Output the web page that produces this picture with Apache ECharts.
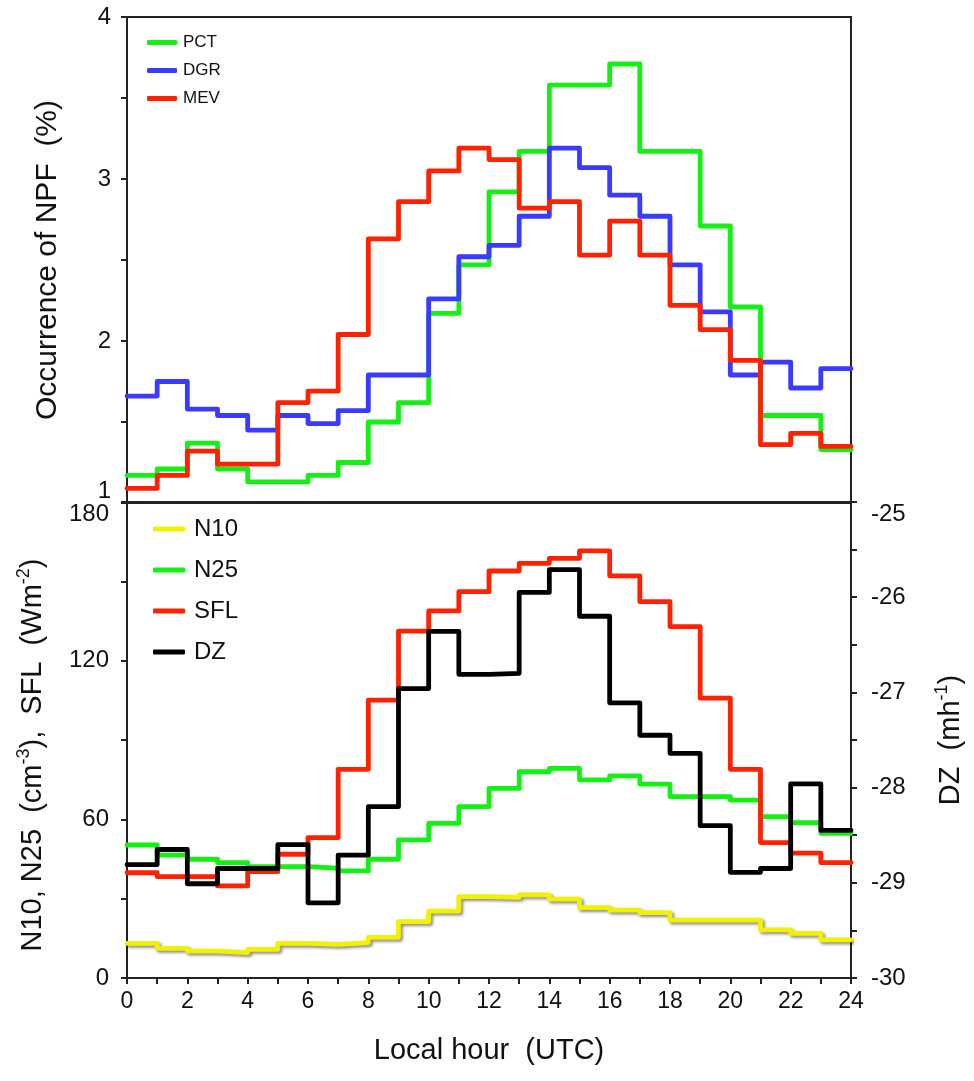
<!DOCTYPE html>
<html>
<head>
<meta charset="utf-8">
<script src="https://cdn.jsdelivr.net/npm/echarts@6/dist/echarts.min.js"></script>
<style>
  html, body { margin: 0; padding: 0; background: #fff; }
  #main { width: 974px; height: 1081px; }
</style>
</head>
<body>
<div id="main"></div>
<script>
// hourly bins 0-1 ... 23-24
var hours = [0,1,2,3,4,5,6,7,8,9,10,11,12,13,14,15,16,17,18,19,20,21,22,23];

// top panel: occurrence of NPF (%)
var pct = [1.17,1.21,1.37,1.21,1.13,1.13,1.17,1.25,1.50,1.62,2.17,2.47,2.92,3.17,3.58,3.58,3.71,3.17,3.17,2.71,2.21,1.54,1.54,1.33];
var dgr = [1.66,1.75,1.58,1.54,1.45,1.54,1.49,1.57,1.79,1.79,2.26,2.52,2.59,2.77,3.19,3.07,2.90,2.77,2.47,2.18,1.79,1.87,1.71,1.83];
var mev = [1.09,1.17,1.32,1.24,1.24,1.62,1.69,2.04,2.63,2.86,3.05,3.19,3.12,2.82,2.86,2.53,2.74,2.53,2.22,2.07,1.88,1.36,1.43,1.35];

// bottom panel
var n10 = [13.1,11.2,10.2,9.6,10.8,13.1,12.7,13.4,15.4,21.3,25.3,30.8,30.5,31.4,29.8,26.6,25.7,24.7,21.9,21.9,21.9,18.2,16.9,14.4];
var n25 = [50.3,46.5,44.9,43.6,42.1,42.1,41.5,40.5,44.9,52.2,58.5,64.8,71.7,78.0,79.3,74.9,76.4,73.3,68.6,68.6,67.3,61.0,58.7,54.7];
var sfl = [39.8,38.3,38.3,34.8,40.2,46.8,53.1,78.9,105.1,131.2,138.8,146.1,153.9,156.8,158.7,161.5,152.1,142.3,132.9,105.8,78.9,51.2,47.2,43.6];
var dz = [-28.81,-28.65,-29.01,-28.85,-28.85,-28.60,-29.21,-28.71,-28.20,-26.96,-26.36,-26.81,-26.80,-25.95,-25.71,-26.20,-27.11,-27.45,-27.64,-28.40,-28.89,-28.85,-27.96,-28.45];

var FONT = '"Liberation Sans", Arial, sans-serif';
var AXIS = '#222';

// each bin drawn as a flat step; last point closes the 23-24 bin
function steps(vals) {
  var pts = hours.map(function (h, i) { return [h, vals[i]]; });
  pts.push([24, vals[vals.length - 1]]);
  return pts;
}

function stepSeries(name, vals, color, xi, yi, extra) {
  var s = {
    name: name,
    type: 'line',
    step: 'end',
    xAxisIndex: xi,
    yAxisIndex: yi,
    data: steps(vals),
    symbol: 'none',
    color: color,
    lineStyle: { width: 4.8, color: color, cap: 'round', join: 'round' },
    animation: false
  };
  if (extra) s.lineStyle = Object.assign(s.lineStyle, extra);
  return s;
}

var supTitle = {
  a: { fontSize: 29, color: '#111', fontFamily: FONT, lineHeight: 32, verticalAlign: 'bottom' },
  s: { fontSize: 18, color: '#111', fontFamily: FONT, lineHeight: 32, verticalAlign: 'top' }
};

var chart = echarts.init(document.getElementById('main'));

var option = {
  backgroundColor: '#fff',
  textStyle: { fontFamily: FONT, color: '#111' },
  grid: [
    { left: 127, top: 17, width: 724, height: 486, show: true, borderColor: AXIS, borderWidth: 2, backgroundColor: 'transparent' },
    { left: 127, top: 502, width: 724, height: 476, show: true, borderColor: AXIS, borderWidth: 2, backgroundColor: 'transparent' }
  ],
  legend: [
    {
      data: ['PCT', 'DGR', 'MEV'],
      orient: 'vertical', left: 142, top: 29,
      icon: 'roundRect', itemWidth: 30, itemHeight: 5, itemGap: 11,
      textStyle: { fontSize: 17, fontFamily: FONT, color: '#111', padding: [0, 0, 0, 1] }
    },
    {
      data: ['N10', 'N25', 'SFL', 'DZ'],
      orient: 'vertical', left: 148, top: 512,
      icon: 'roundRect', itemWidth: 32, itemHeight: 5, itemGap: 17,
      textStyle: { fontSize: 24, fontFamily: FONT, color: '#111', padding: [0, 0, 0, 4] }
    }
  ],
  xAxis: [
    {
      gridIndex: 0, type: 'value', min: 0, max: 24, interval: 1,
      axisLine: { show: false }, axisTick: { show: false },
      axisLabel: { show: false }, splitLine: { show: false }
    },
    {
      gridIndex: 1, type: 'value', min: 0, max: 24, interval: 1,
      axisLine: { lineStyle: { color: AXIS, width: 2 } },
      axisTick: { length: 6, lineStyle: { color: AXIS, width: 2 } },
      axisLabel: {
        fontSize: 23, margin: 12, color: '#111',
        fontFamily: '"Liberation Sans Narrow", "Liberation Sans", sans-serif',
        formatter: function (v) { return v % 2 === 0 ? String(v) : ''; }
      },
      splitLine: { show: false },
      name: 'Local hour  (UTC)', nameLocation: 'middle', nameGap: 58,
      nameTextStyle: { fontSize: 29, color: '#111' }
    }
  ],
  yAxis: [
    {
      gridIndex: 0, type: 'value', min: 1, max: 4, interval: 1,
      axisLine: { show: true, lineStyle: { color: AXIS, width: 2 } },
      axisTick: { show: true, length: 6, lineStyle: { color: AXIS, width: 2 } },
      minorTick: { show: true, splitNumber: 2, length: 6, lineStyle: { color: AXIS, width: 2 } },
      axisLabel: { fontSize: 24, margin: 16, color: '#111', verticalAlignMinLabel: 'bottom' },
      splitLine: { show: false },
      name: 'Occurrence of NPF  (%)', nameLocation: 'middle', nameGap: 64,
      nameTextStyle: { fontSize: 30, color: '#111' }
    },
    {
      gridIndex: 1, type: 'value', min: 0, max: 180, interval: 60,
      axisLine: { show: true, lineStyle: { color: AXIS, width: 2 } },
      axisTick: { show: true, length: 6, lineStyle: { color: AXIS, width: 2 } },
      minorTick: { show: true, splitNumber: 2, length: 6, lineStyle: { color: AXIS, width: 2 } },
      axisLabel: { fontSize: 24, margin: 18, color: '#111', verticalAlignMaxLabel: 'top' },
      splitLine: { show: false },
      name: '{a|N10, N25  (cm}{s|-3}{a|),  SFL  (Wm}{s|-2}{a|)}',
      nameLocation: 'middle', nameGap: 80,
      nameTextStyle: { rich: supTitle, padding: [0, 30, 0, 0] }
    },
    {
      gridIndex: 1, type: 'value', position: 'right', min: -30, max: -25, interval: 1,
      axisLine: { show: true, lineStyle: { color: AXIS, width: 2 } },
      axisTick: { show: true, length: 6, lineStyle: { color: AXIS, width: 2 } },
      minorTick: { show: true, splitNumber: 2, length: 6, lineStyle: { color: AXIS, width: 2 } },
      axisLabel: { fontSize: 24, margin: 20, color: '#111', verticalAlignMaxLabel: 'top' },
      splitLine: { show: false },
      name: '{a|DZ  (mh}{s|-1}{a|)}',
      nameLocation: 'middle', nameGap: 82, nameRotate: 90,
      nameTextStyle: { rich: supTitle }
    }
  ],
  series: [
    stepSeries('PCT', pct, '#14f014', 0, 0),
    stepSeries('DGR', dgr, '#3b3bff', 0, 0),
    stepSeries('MEV', mev, '#ff2200', 0, 0),
    stepSeries('N10', n10, '#f2f200', 1, 1, { shadowColor: 'rgba(0,0,0,0.45)', shadowBlur: 3, shadowOffsetX: 2, shadowOffsetY: 2 }),
    stepSeries('N25', n25, '#14f014', 1, 1),
    stepSeries('SFL', sfl, '#ff2200', 1, 1),
    stepSeries('DZ', dz, '#000000', 1, 2)
  ]
};

chart.setOption(option);
</script>
</body>
</html>
